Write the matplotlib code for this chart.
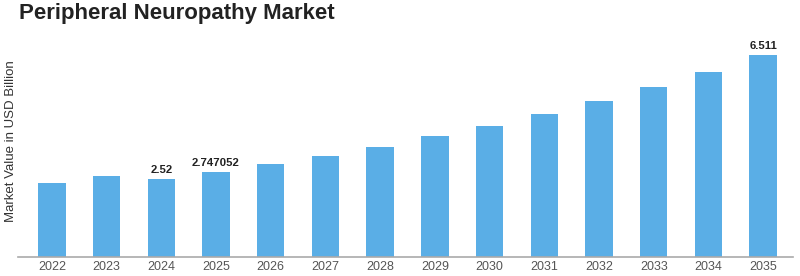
import matplotlib.pyplot as plt

plt.rcParams['font.family'] = ['Liberation Sans', 'DejaVu Sans']

years = ['2022', '2023', '2024', '2025', '2026', '2027', '2028',
         '2029', '2030', '2031', '2032', '2033', '2034', '2035']
values = [2.39, 2.61, 2.52, 2.747052, 2.99, 3.26, 3.55,
          3.90, 4.23, 4.61, 5.03, 5.48, 5.97, 6.511]
labelled = {'2024': '2.52', '2025': '2.747052', '2035': '6.511'}

fig = plt.figure(figsize=(8, 2.76), dpi=100)
ax = fig.add_axes([0.0225, 0.07, 0.969, 0.803])

x = range(len(years))
ax.bar(x, values, width=0.5, color='#5AAEE6')

for i, (yr, v) in enumerate(zip(years, values)):
    if yr in labelled:
        ax.text(i, v + 0.13, labelled[yr], ha='center', va='bottom',
                fontsize=8.2, fontweight='bold', color='#222222')

ax.set_xlim(-0.62, 13.55)
ax.set_ylim(0, 7.16)
ax.set_xticks(list(x))
ax.set_xticklabels(years, fontsize=9, color='#555555')
ax.tick_params(axis='x', length=0, pad=3)
ax.set_yticks([])
for s in ['top', 'right', 'left']:
    ax.spines[s].set_visible(False)
ax.spines['bottom'].set_color('#aaaaaa')
ax.spines['bottom'].set_linewidth(1.2)

fig.text(0.006, 0.49, 'Market Value in USD Billion', rotation=90,
         ha='left', va='center', fontsize=9.5, color='#333333')
fig.text(0.024, 0.931, 'Peripheral Neuropathy Market', ha='left', va='baseline',
         fontsize=16, fontweight='bold', color='#222222')

fig.savefig('out.png', dpi=100)
